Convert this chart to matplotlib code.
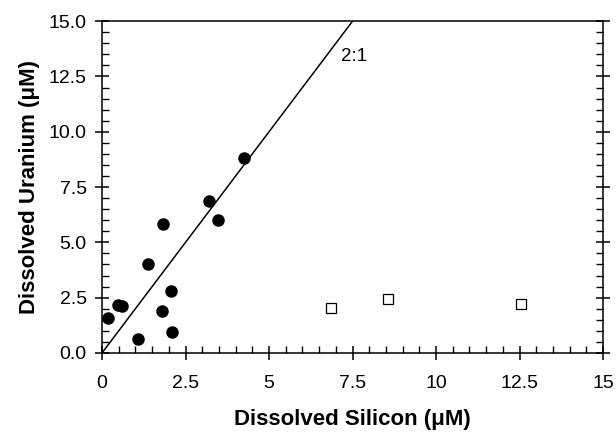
import matplotlib.pyplot as plt
import numpy as np
from matplotlib.ticker import MultipleLocator

plt.rcParams['font.family'] = ['Liberation Sans', 'DejaVu Sans']

# filled circles
si_fill = [0.19, 0.49, 0.61, 1.09, 1.37, 1.79, 1.84, 2.07, 2.11, 3.20, 3.47, 4.25]
u_fill = [1.59, 2.18, 2.13, 0.62, 4.04, 1.88, 5.84, 2.79, 0.96, 6.85, 5.99, 8.80]

# open squares
si_open = [6.85, 8.55, 12.55]
u_open = [2.01, 2.46, 2.21]

ratio = 2.0
line_x = [0, 7.6]

fig = plt.figure(figsize=(6.16, 4.32), dpi=100)
ax = fig.add_axes([0.1656, 0.183, 0.8134, 0.768])

ax.plot(line_x, [ratio * v for v in line_x], color='black', lw=1.1, zorder=2)
ax.plot(si_fill, u_fill, 'o', color='black', ms=8, zorder=3)
ax.plot(si_open, u_open, 's', mfc='white', mec='black', mew=0.9, ms=7, zorder=3)
ax.text(7.15, 13.4, '2:1', fontsize=13.5, va='center', ha='left')

ax.set_xlim(0, 15)
ax.set_ylim(0, 15)
ax.xaxis.set_major_locator(MultipleLocator(2.5))
ax.xaxis.set_minor_locator(MultipleLocator(0.5))
ax.yaxis.set_major_locator(MultipleLocator(2.5))
ax.yaxis.set_minor_locator(MultipleLocator(0.5))
ax.set_xticks([0, 2.5, 5, 7.5, 10, 12.5, 15])
ax.set_xticklabels(['0', '2.5', '5', '7.5', '10', '12.5', '15'])
ax.yaxis.set_major_formatter(plt.FormatStrFormatter('%.1f'))

ax.tick_params(which='major', direction='inout', length=10, width=1.1, labelsize=14)
ax.tick_params(axis='x', which='major', pad=11)
ax.tick_params(axis='y', which='major', pad=6)
ax.tick_params(which='minor', direction='in', length=5, width=1)
ax.tick_params(axis='y', which='both', right=True)
for s in ax.spines.values():
    s.set_linewidth(1.1)

ax.set_xlabel('Dissolved Silicon (μM)', fontsize=16, fontweight='bold', labelpad=12)
ax.set_ylabel('Dissolved Uranium (μM)', fontsize=16, fontweight='bold', labelpad=6)

plt.savefig('out.png', dpi=100)
